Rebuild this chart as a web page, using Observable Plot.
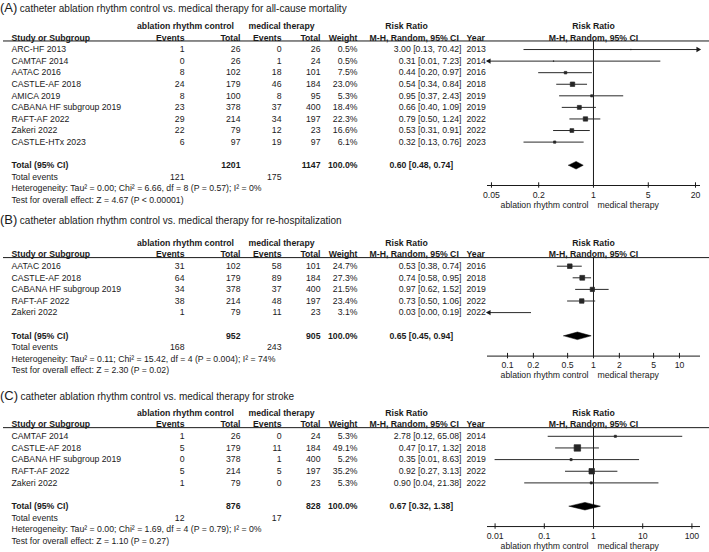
<!DOCTYPE html>
<html><head><meta charset="utf-8">
<script src="https://cdn.jsdelivr.net/npm/d3@7"></script>
<script src="https://cdn.jsdelivr.net/npm/@observablehq/plot@0.6"></script>
<style>
body{margin:0;background:#fff;}
#wrap{position:relative;width:709px;height:552px;font-family:"Liberation Sans",Arial,sans-serif;color:#1a1a1a;overflow:hidden;}
.title{position:absolute;left:0;height:16px;line-height:16px;white-space:nowrap;font-size:10px;}
.title .lab{font-size:13px;margin-right:2.5px;}
.panel{position:absolute;left:0;}
</style></head><body><div id="wrap"></div>
<script>
// ---------- Panel A: all-cause mortality ----------
const titleA = "catheter ablation rhythm control vs. medical therapy for all-cause mortality";
const studiesA = ["ARC-HF 2013","CAMTAF 2014","AATAC 2016","CASTLE-AF 2018","AMICA 2019","CABANA HF subgroup 2019","RAFT-AF 2022","Zakeri 2022","CASTLE-HTx 2023"];
const abEventsA = [1,0,8,24,8,23,29,22,6];
const abTotalA = [26,26,102,179,100,378,214,79,97];
const medEventsA = [0,1,18,46,8,37,34,12,19];
const medTotalA = [26,24,101,184,95,400,197,23,97];
const weightA = [0.5,0.5,7.5,23.0,5.3,18.4,22.3,16.6,6.1];
const rrA = [3.00,0.31,0.44,0.54,0.95,0.66,0.79,0.53,0.32];
const loA = [0.13,0.01,0.20,0.34,0.37,0.40,0.50,0.31,0.13];
const hiA = [70.42,7.23,0.97,0.84,2.43,1.09,1.24,0.91,0.76];
const yearA = [2013,2014,2016,2018,2019,2019,2022,2022,2023];
const totalsA = [1201,1147];          // ablation total, medical total
const totalEventsA = [121,175];
const pooledA = [0.60,0.48,0.74];     // RR, lower, upper
const hetA = "Heterogeneity: Tau² = 0.00; Chi² = 6.66, df = 8 (P = 0.57); I² = 0%";
const testA = "Test for overall effect: Z = 4.67 (P < 0.00001)";
const ticksA = [0.05,0.2,1,5,20];

// ---------- Panel B: re-hospitalization ----------
const titleB = "catheter ablation rhythm control vs. medical therapy for re-hospitalization";
const studiesB = ["AATAC 2016","CASTLE-AF 2018","CABANA HF subgroup 2019","RAFT-AF 2022","Zakeri 2022"];
const abEventsB = [31,64,34,38,1];
const abTotalB = [102,179,378,214,79];
const medEventsB = [58,89,37,48,11];
const medTotalB = [101,184,400,197,23];
const weightB = [24.7,27.3,21.5,23.4,3.1];
const rrB = [0.53,0.74,0.97,0.73,0.03];
const loB = [0.38,0.58,0.62,0.50,0.00];
const hiB = [0.74,0.95,1.52,1.06,0.19];
const yearB = [2016,2018,2019,2022,2022];
const totalsB = [952,905];
const totalEventsB = [168,243];
const pooledB = [0.65,0.45,0.94];
const hetB = "Heterogeneity: Tau² = 0.11; Chi² = 15.42, df = 4 (P = 0.004); I² = 74%";
const testB = "Test for overall effect: Z = 2.30 (P = 0.02)";
const ticksB = [0.1,0.2,0.5,1,2,5,10];

// ---------- Panel C: stroke ----------
const titleC = "catheter ablation rhythm control vs. medical therapy for stroke";
const studiesC = ["CAMTAF 2014","CASTLE-AF 2018","CABANA HF subgroup 2019","RAFT-AF 2022","Zakeri 2022"];
const abEventsC = [1,5,0,5,1];
const abTotalC = [26,179,378,214,79];
const medEventsC = [0,11,1,5,0];
const medTotalC = [24,184,400,197,23];
const weightC = [5.3,49.1,5.2,35.2,5.3];
const rrC = [2.78,0.47,0.35,0.92,0.90];
const loC = [0.12,0.17,0.01,0.27,0.04];
const hiC = [65.08,1.32,8.63,3.13,21.38];
const yearC = [2014,2018,2019,2022,2022];
const totalsC = [876,828];
const totalEventsC = [12,17];
const pooledC = [0.67,0.32,1.38];
const hetC = "Heterogeneity: Tau² = 0.00; Chi² = 1.69, df = 4 (P = 0.79); I² = 0%";
const testC = "Test for overall effect: Z = 1.10 (P = 0.27)";
const ticksC = [0.01,0.1,1,10,100];

// ---------- layout ----------
const INK = "#1a1a1a";
const FONT = "'Liberation Sans', Arial, Helvetica, sans-serif";
const W = 709, ML = 3, MR = 1;
const FOREST = [487, 699];
const COLS = {
  study:  {x: 11,  anchor: "start"},
  abE:    {x: 184, anchor: "end"},
  abT:    {x: 240, anchor: "end"},
  meE:    {x: 281, anchor: "end"},
  meT:    {x: 320, anchor: "end"},
  w:      {x: 357, anchor: "end"},
  rr:     {x: 461, anchor: "end"},
  rrTot:  {x: 389, anchor: "start"},
  rrHead: {x: 406, anchor: "middle"},
  rrSub:  {x: 369, anchor: "start"},
  yr:     {x: 466, anchor: "start"},
  abHead: {x: 185, anchor: "middle"},
  meHead: {x: 281, anchor: "middle"}
};
const f2 = d3.format(".2f");
const ciText = (r, l, h) => `${f2(r)} [${f2(l)}, ${f2(h)}]`;
const pct = w => w.toFixed(1) + "%";

function panel(d, lay) {
  const n = d.studies.length;
  const idx = d3.range(n);
  const iTot = n + 3, iEv = n + 4, iHet = n + 5, iTest = n + 6, nRows = n + 7;
  const {y0, step, height, domain} = lay;
  const AX = 8.7;                       // axis offset below the "Total events" row (px)
  const axisY = y0 + iEv * step + AX;
  const lineY = y0 + step + 3;

  const cells = [];
  const add = (i, t, col, bold = false) => cells.push({i, t: String(t), col, bold});
  add(0, "ablation rhythm control", "abHead", true);
  add(0, "medical therapy", "meHead", true);
  add(0, "Risk Ratio", "rrHead", true);
  add(1, "Study or Subgroup", "study", true);
  add(1, "Events", "abE", true); add(1, "Total", "abT", true);
  add(1, "Events", "meE", true); add(1, "Total", "meT", true);
  add(1, "Weight", "w", true);
  add(1, "M-H, Random, 95% CI", "rrSub", true);
  add(1, "Year", "yr", true);
  idx.forEach(k => {
    const i = 2 + k;
    add(i, d.studies[k], "study");
    add(i, d.abE[k], "abE"); add(i, d.abT[k], "abT");
    add(i, d.meE[k], "meE"); add(i, d.meT[k], "meT");
    add(i, pct(d.w[k]), "w");
    add(i, ciText(d.rr[k], d.lo[k], d.hi[k]), "rr");
    add(i, d.yr[k], "yr");
  });
  add(iTot, "Total (95% CI)", "study", true);
  add(iTot, d.totals[0], "abT", true);
  add(iTot, d.totals[1], "meT", true);
  add(iTot, pct(100), "w", true);
  add(iTot, ciText(...d.pooled), "rrTot", true);
  add(iEv, "Total events", "study");
  add(iEv, d.events[0], "abE");
  add(iEv, d.events[1], "meE");
  add(iHet, d.het, "study");
  add(iTest, d.test, "study");

  const groups = d3.groups(cells, c => c.col + "|" + c.bold);
  const textMarks = groups.map(([key, arr]) => {
    const c = COLS[arr[0].col];
    return Plot.text(arr, {
      y: "i", text: "t", frameAnchor: "left", lineAnchor: "middle", dx: c.x - ML,
      textAnchor: c.anchor, fill: INK, fontWeight: arr[0].bold ? "bold" : "normal"
    });
  });

  const inDom = v => v >= domain[0] && v <= domain[1];
  const leftArrows = idx.filter(k => d.lo[k] < domain[0]);
  const rightArrows = idx.filter(k => d.hi[k] > domain[1]);
  const shown = idx.filter(k => inDom(d.rr[k]));
  const half = 3.8 / step;
  const [pr, pl, ph] = d.pooled;
  const diamond = [
    {x: pl, y: iTot}, {x: pr, y: iTot - half}, {x: ph, y: iTot},
    {x: pr, y: iTot + half}, {x: pl, y: iTot}
  ];

  return Plot.plot({
    width: W, height,
    marginLeft: ML, marginRight: MR, marginTop: lineY, marginBottom: height - axisY,
    x: {type: "log", domain, range: FOREST, axis: null},
    y: {type: "linear", domain: [0, nRows - 1], range: [y0, y0 + (nRows - 1) * step], axis: null},
    r: {type: "sqrt", domain: [0, 100], range: [0, 5.2]},
    style: {fontFamily: FONT, fontSize: "8.7px", color: INK, background: "white", overflow: "visible"},
    marks: [
      Plot.frame({anchor: "top", stroke: INK, strokeWidth: 1}),
      Plot.frame({anchor: "bottom", stroke: INK, strokeWidth: 1, insetLeft: FOREST[0] - ML, insetRight: W - MR - FOREST[1]}),
      Plot.ruleX([1], {stroke: INK, strokeWidth: 1}),
      // axis ticks crossing the axis line
      Plot.ruleX(lay.ticks, {x: v => v, y1: iEv + (AX - 2.7) / step, y2: iEv + (AX + 2.7) / step, stroke: INK, strokeWidth: 1}),
      Plot.ruleY(idx, {
        y: k => 2 + k,
        x1: k => Math.max(d.lo[k], domain[0]),
        x2: k => Math.min(d.hi[k], domain[1]),
        stroke: "#2a2a2a", strokeWidth: 1
      }),
      Plot.dot(leftArrows, {x: () => domain[0], y: k => 2 + k, symbol: "triangle", rotate: -90, r: 2, dx: 1.5, fill: INK}),
      Plot.dot(rightArrows, {x: () => domain[1], y: k => 2 + k, symbol: "triangle", rotate: 90, r: 2, dx: -1.5, fill: INK}),
      Plot.dot(shown, {
        x: k => d.rr[k], y: k => 2 + k, r: k => d.w[k],
        symbol: "square", fill: "#262626", stroke: "#262626", strokeWidth: 0.7
      }),
      Plot.line(diamond, {x: "x", y: "y", fill: "#000", stroke: "#000", strokeWidth: 0.5}),
      Plot.text(["Risk Ratio"], {x: () => 1, y: () => 0, text: t => t, fontWeight: "bold", fill: INK}),
      Plot.text(["M-H, Random, 95% CI"], {x: () => 1, y: () => 1, text: t => t, fontWeight: "bold", fill: INK}),
      // tick labels
      Plot.text(lay.ticks, {x: v => v, frameAnchor: "bottom", lineAnchor: "middle", dy: 9.5, text: v => String(v), fill: INK}),
      Plot.text(["ablation rhythm control"], {x: () => 1, frameAnchor: "bottom", lineAnchor: "middle", dy: 19.5, dx: -5, textAnchor: "end", text: t => t, fill: INK}),
      Plot.text(["medical therapy"], {x: () => 1, frameAnchor: "bottom", lineAnchor: "middle", dy: 19.5, dx: 4, textAnchor: "start", text: t => t, fill: INK}),
      ...textMarks
    ]
  });
}

const wrap = document.getElementById("wrap");
function addTitle(label, text, top) {
  const div = document.createElement("div");
  div.className = "title";
  div.style.top = top + "px";
  const s1 = document.createElement("span"); s1.className = "lab"; s1.textContent = label;
  const s2 = document.createElement("span"); s2.textContent = text;
  div.append(s1, s2);
  wrap.append(div);
}
function addPanel(svg, top) {
  svg.classList.add("panel");
  svg.style.top = top + "px";
  svg.style.position = "absolute";
  wrap.append(svg);
}

addTitle("(A)", titleA, 0);
addPanel(panel({studies: studiesA, abE: abEventsA, abT: abTotalA, meE: medEventsA, meT: medTotalA, w: weightA,
  rr: rrA, lo: loA, hi: hiA, yr: yearA, totals: totalsA, events: totalEventsA, pooled: pooledA, het: hetA, test: testA},
  {y0: 9.9, step: 11.57, height: 196, domain: [0.0445, 22.5], ticks: ticksA}), 16);

addTitle("(B)", titleB, 212);
addPanel(panel({studies: studiesB, abE: abEventsB, abT: abTotalB, meE: medEventsB, meT: medTotalB, w: weightB,
  rr: rrB, lo: loB, hi: hiB, yr: yearB, totals: totalsB, events: totalEventsB, pooled: pooledB, het: hetB, test: testB},
  {y0: 14.5, step: 11.6, height: 160, domain: [0.0585, 17.1], ticks: ticksB}), 228);

addTitle("(C)", titleC, 388);
addPanel(panel({studies: studiesC, abE: abEventsC, abT: abTotalC, meE: medEventsC, meT: medTotalC, w: weightC,
  rr: rrC, lo: loC, hi: hiC, yr: yearC, totals: totalsC, events: totalEventsC, pooled: pooledC, het: hetC, test: testC},
  {y0: 8.5, step: 11.65, height: 148, domain: [0.00701, 142.6], ticks: ticksC}), 404);
</script>
</body></html>
